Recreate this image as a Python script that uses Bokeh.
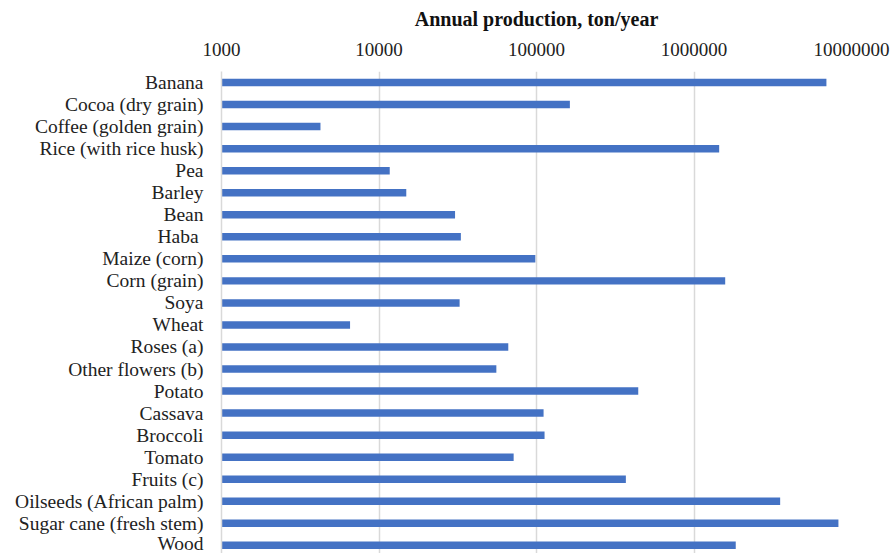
from bokeh.plotting import figure
from bokeh.models import ColumnDataSource, Range1d, FixedTicker, PrintfTickFormatter
from bokeh.embed import file_html
from bokeh.resources import INLINE

# Annual production per crop, ton/year (top to bottom)
crops = [
    "Banana", "Cocoa (dry grain)", "Coffee (golden grain)", "Rice (with rice husk)",
    "Pea", "Barley", "Bean", "Haba ", "Maize (corn)", "Corn (grain)", "Soya", "Wheat",
    "Roses (a)", "Other flowers (b)", "Potato", "Cassava", "Broccoli", "Tomato",
    "Fruits (c)", "Oilseeds (African palm)", "Sugar cane (fresh stem)", "Wood",
]
production = [
    6930000, 162900, 4250, 1445000,
    11700, 14900, 30400, 33100, 98300, 1578000, 32500, 6550,
    66200, 55600, 442600, 110900, 112500, 71600,
    369300, 3524000, 8260000, 1841000,
]
x_ticks = [1000, 10000, 100000, 1000000, 10000000]

BAR_BLUE = "#4472C4"
GRID_GREY = "#d9d9d9"
SERIF = "Liberation Serif"

rows = list(range(len(crops)))
source = ColumnDataSource(dict(y=rows, value=production, name=crops))

p = figure(
    width=893, height=553,
    x_axis_type="log", x_axis_location="above",
    x_range=Range1d(1000, 10000000),
    y_range=Range1d(21.37, -0.5),
    output_backend="svg", toolbar_location=None,
    min_border_left=221, min_border_right=42,
    min_border_top=71, min_border_bottom=0,
)
p.outline_line_color = None
p.background_fill_color = "white"
p.border_fill_color = "white"

p.hbar(y="y", left=1000, right="value", height=0.34, source=source,
       fill_color=BAR_BLUE, line_color=None)

# top log axis
xa = p.xaxis[0]
xa.ticker = FixedTicker(ticks=x_ticks, minor_ticks=[])
xa.formatter = PrintfTickFormatter(format="%d")
xa.axis_line_color = None
xa.major_tick_line_color = None
xa.minor_tick_line_color = None
xa.major_tick_out = 0
xa.major_tick_in = 0
xa.major_label_standoff = 16
xa.major_label_text_font = SERIF
xa.major_label_text_font_size = "19px"
xa.major_label_text_color = "#222222"
xa.axis_label = "Annual production, ton/year"
xa.axis_label_text_font = SERIF
xa.axis_label_text_font_size = "20px"
xa.axis_label_text_font_style = "bold"
xa.axis_label_text_color = "#111111"
xa.axis_label_standoff = 10

# category axis on the left
ya = p.yaxis[0]
ya.ticker = FixedTicker(ticks=rows, minor_ticks=[])
ya.major_label_overrides = {i: c for i, c in zip(rows, crops)}
ya.axis_line_color = GRID_GREY
ya.axis_line_width = 1.5
ya.major_tick_line_color = None
ya.minor_tick_line_color = None
ya.major_tick_out = 0
ya.major_tick_in = 0
ya.major_label_standoff = 18
ya.major_label_text_font = SERIF
ya.major_label_text_font_size = "19.5px"
ya.major_label_text_color = "#222222"

p.xgrid.grid_line_color = GRID_GREY
p.xgrid.grid_line_width = 1.5
p.ygrid.grid_line_color = None

open("out.html", "w").write(file_html(p, INLINE))
